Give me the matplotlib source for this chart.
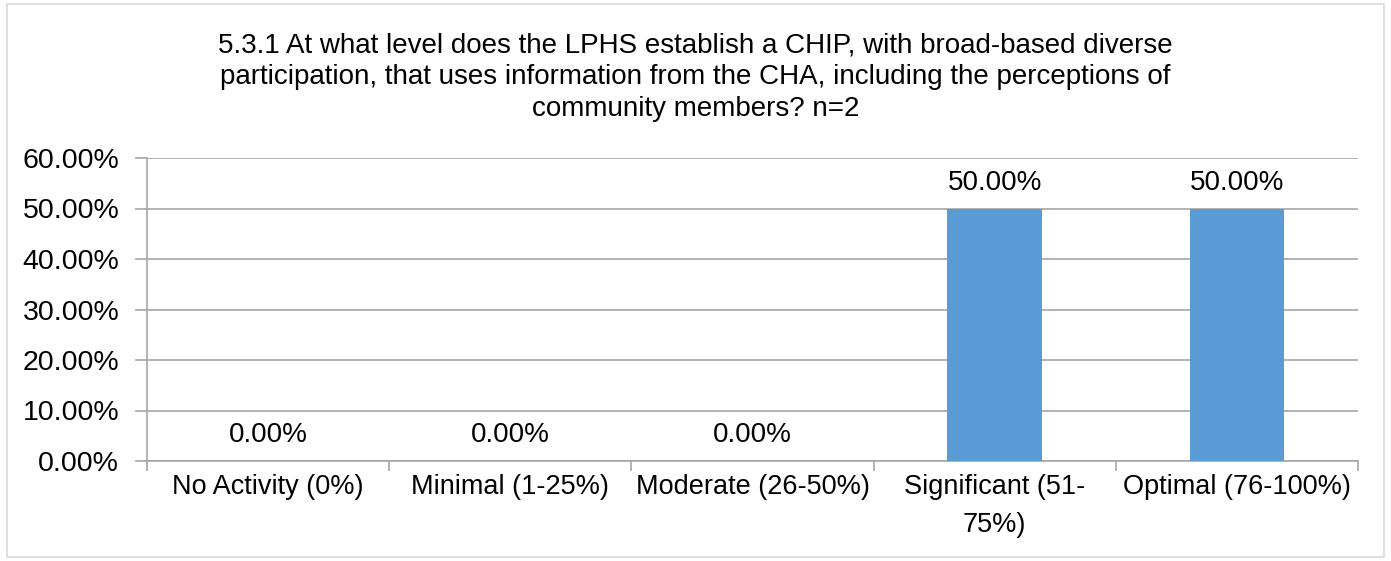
import matplotlib.pyplot as plt
import numpy as np
from matplotlib.ticker import FuncFormatter, FixedLocator

categories = ['No Activity (0%)', 'Minimal (1-25%)', 'Moderate (26-50%)',
              'Significant (51-\n75%)', 'Optimal (76-100%)']
values = [0.0, 0.0, 0.0, 50.0, 50.0]
title = ('5.3.1 At what level does the LPHS establish a CHIP, with broad-based diverse\n'
         'participation, that uses information from the CHA, including the perceptions of\n'
         'community members? n=2')

plt.rcParams['font.family'] = ['Liberation Sans', 'DejaVu Sans']
grid_col = '#A6A6A6'

fig = plt.figure(figsize=(13.91, 5.61), dpi=100)
ax = fig.add_axes([147/1391, 1 - 461/561, (1358-147)/1391, (461-158)/561])

x = np.arange(len(categories))
ax.bar(x, values, width=0.39, color='#5B9BD5', zorder=3)

for xi, v in zip(x, values):
    ax.annotate('%.2f%%' % v, (xi, v), xytext=(0, 9), textcoords='offset points',
                ha='center', va='bottom', fontsize=20, color='#000000')

ax.set_xlim(-0.5, len(categories) - 0.5)
ax.set_ylim(0, 60)
ax.set_yticks(np.arange(0, 61, 10))
ax.yaxis.set_major_formatter(FuncFormatter(lambda v, p: '%.2f%%' % v))
ax.yaxis.grid(True, color=grid_col, linewidth=1.2, zorder=0)

ax.xaxis.set_major_locator(FixedLocator(np.arange(-0.5, len(categories), 1.0)))
ax.xaxis.set_major_formatter(FuncFormatter(lambda v, p: ''))
ax.xaxis.set_minor_locator(FixedLocator(x))
ax.set_xticklabels(categories, minor=True, fontsize=19.5, ha='center', linespacing=1.65)
ax.tick_params(axis='x', which='minor', length=0, pad=9)
ax.tick_params(axis='x', which='major', length=7, color=grid_col, width=1.2)
ax.tick_params(axis='y', length=9, color=grid_col, width=1.2, labelsize=20.5, pad=11)

for s in ['top', 'right']:
    ax.spines[s].set_visible(False)
for s in ['left', 'bottom']:
    ax.spines[s].set_color(grid_col)
    ax.spines[s].set_linewidth(1.2)

fig.text(0.5, 1 - 32/561, title, ha='center', va='top', fontsize=20,
         linespacing=1.3)

border = plt.Rectangle((7/1391, 4/561), 1377/1391, 553/561, transform=fig.transFigure,
                       fill=False, edgecolor='#D9D9D9', linewidth=1.2)
fig.patches.append(border)

fig.savefig('out.png', dpi=100, facecolor='white')
